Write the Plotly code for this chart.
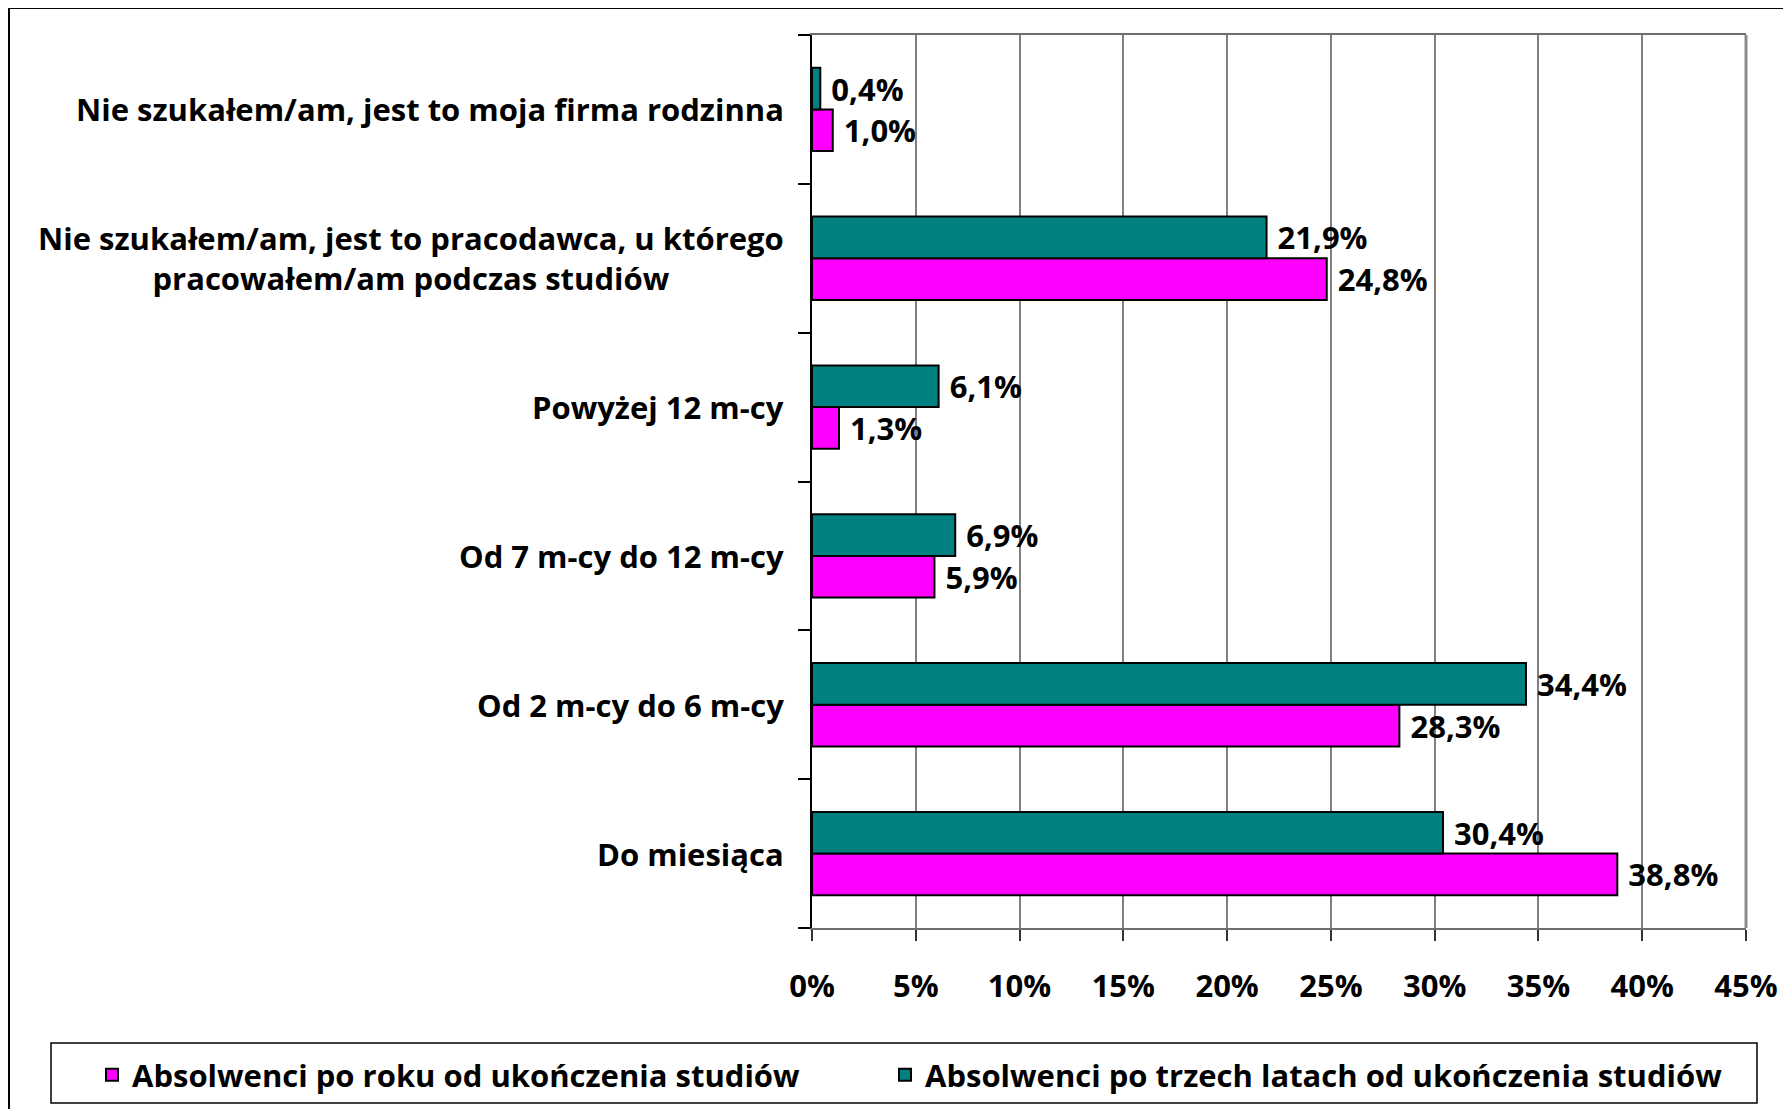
import plotly.graph_objects as go

# categories listed top-to-bottom as in the reference
categories = [
    "Nie szukałem/am, jest to moja firma rodzinna",
    "Nie szukałem/am, jest to pracodawca, u którego<br>pracowałem/am podczas studiów",
    "Powyżej 12 m-cy",
    "Od 7 m-cy do 12 m-cy",
    "Od 2 m-cy do 6 m-cy",
    "Do miesiąca",
]
po_roku = [1.0, 24.8, 1.3, 5.9, 28.3, 38.8]
po_trzech_latach = [0.4, 21.9, 6.1, 6.9, 34.4, 30.4]
series_names = ["Absolwenci po roku od ukończenia studiów",
                "Absolwenci po trzech latach od ukończenia studiów"]
x_ticks = [0, 5, 10, 15, 20, 25, 30, 35, 40, 45]
x_tick_labels = ["0%", "5%", "10%", "15%", "20%", "25%", "30%", "35%", "40%", "45%"]

cats = categories[::-1]
v1 = po_roku[::-1]
v2 = po_trzech_latach[::-1]

FONT = "Open Sans"
FS = 31
OFF = 8  # page body offset in px

fig = go.Figure()
fig.add_trace(go.Bar(
    y=cats, x=v1, orientation="h", name=series_names[0], legend="legend",
    marker=dict(color="#FF00FF", line=dict(color="black", width=2)),
    texttemplate="\u00a0%{x:.1f}%", textposition="outside", cliponaxis=False,
    textfont=dict(family=FONT, size=FS, color="black", weight="bold"),
    constraintext="none",
))
fig.add_trace(go.Bar(
    y=cats, x=v2, orientation="h", name=series_names[1], legend="legend2",
    marker=dict(color="#008080", line=dict(color="black", width=2)),
    texttemplate="\u00a0%{x:.1f}%", textposition="outside", cliponaxis=False,
    textfont=dict(family=FONT, size=FS, color="black", weight="bold"),
    constraintext="none",
))

annotations = []
for c in cats:
    annotations.append(dict(
        x=0, xref="paper", y=c, yref="y", text=c, showarrow=False,
        xanchor="right", yanchor="middle", align="center", xshift=-26,
        font=dict(family=FONT, size=FS, color="black", weight="bold"),
    ))

# screen pixel -> paper helpers (plot area on screen: x 812..1746, y 35..928)
def px(x):
    return (x - 812) / 934.0

def py(y):
    return (928 - y) / 893.0

shapes = [
    # outer frame
    dict(type="rect", xref="paper", yref="paper", x0=px(9), x1=px(1800), y0=py(1120), y1=py(8),
         line=dict(color="black", width=2), fillcolor="rgba(0,0,0,0)", layer="below"),
    # legend box
    dict(type="rect", xref="paper", yref="paper", x0=px(51), x1=px(1757), y0=py(1103), y1=py(1043),
         line=dict(color="black", width=1.5), fillcolor="white", layer="below"),
    # plot area right border
    dict(type="line", xref="paper", yref="paper", x0=1, x1=1, y0=0, y1=1,
         line=dict(color="#8c8c8c", width=3)),
]

legend_font = dict(family=FONT, size=FS, color="black", weight="bold")

fig.update_layout(
    width=1791, height=1109,
    margin=dict(l=812 - OFF, r=45 + OFF, t=35 - OFF, b=181 + OFF),
    paper_bgcolor="white", plot_bgcolor="white",
    barmode="group", bargap=0.44, bargroupgap=0,
    separators=", ",
    showlegend=True,
    legend=dict(orientation="h", x=px(92), y=py(1075), xanchor="left", yanchor="middle",
                font=legend_font, bgcolor="rgba(0,0,0,0)"),
    legend2=dict(orientation="h", x=px(885), y=py(1075), xanchor="left", yanchor="middle",
                 font=legend_font, bgcolor="rgba(0,0,0,0)"),
    xaxis=dict(range=[0, 45], tickvals=x_ticks, ticktext=x_tick_labels,
               showgrid=True, gridcolor="#808080", gridwidth=1.5,
               showline=True, linecolor="#6e6e6e", linewidth=2, mirror=True,
               ticks="outside", ticklen=11, tickcolor="#333333", tickwidth=1.5,
               tickfont=dict(family=FONT, size=FS, color="black", weight="bold"),
               ticklabelstandoff=19, zeroline=False, fixedrange=True),
    yaxis=dict(categoryorder="array", categoryarray=cats, showticklabels=False,
               ticks="outside", tickson="boundaries", ticklen=12, tickcolor="black", tickwidth=1.5,
               showline=True, linecolor="black", linewidth=2, showgrid=False, fixedrange=True),
    annotations=annotations,
    shapes=shapes,
    font=dict(family=FONT, color="black"),
)

fig.write_html("out.html")
